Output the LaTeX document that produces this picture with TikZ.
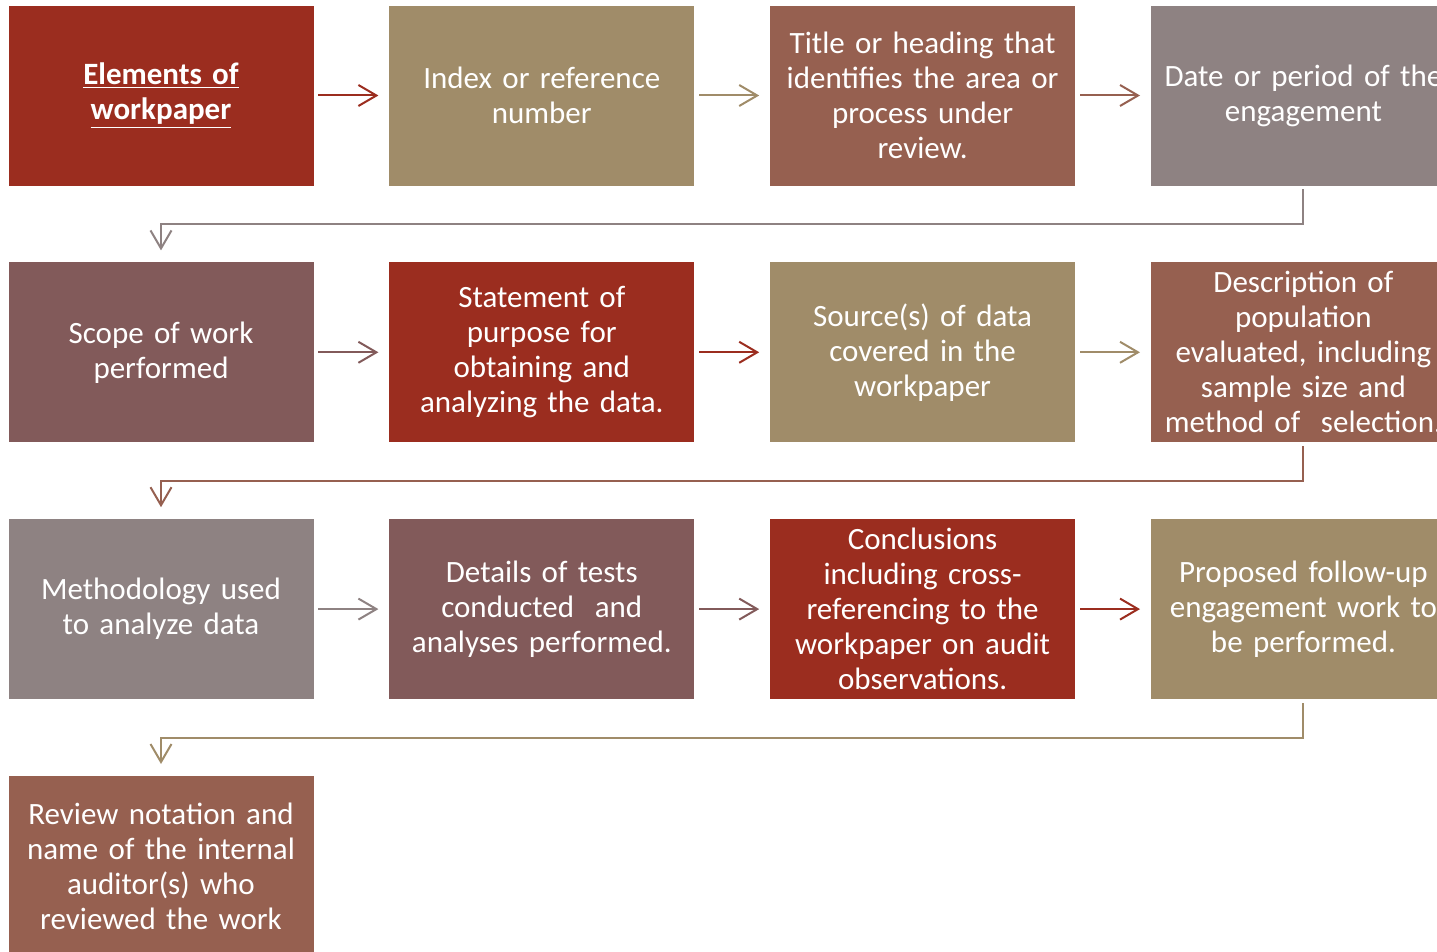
\documentclass[tikz,border=0pt]{standalone}
\usepackage{fontspec}
\setmainfont{Carlito}
\usetikzlibrary{positioning, arrows.meta}
\definecolor{wpred}{HTML}{9B2D1F}
\definecolor{wptan}{HTML}{A08C69}
\definecolor{wpbrown}{HTML}{966050}
\definecolor{wpgray}{HTML}{8E8282}
\definecolor{wpmauve}{HTML}{825A5A}

\begin{document}
\begin{tikzpicture}[
    box/.style={rectangle, draw=white, line width=0.4pt, inner sep=0pt,
      minimum width=153pt, minimum height=90.5pt, text width=150pt,
      align=center, text=white, font=\fontsize{15.5}{17.5}\selectfont},
    link/.style={line width=1pt, -{Straight Barb[length=9pt,width=10.5pt]},
      shorten <=2pt, shorten >=5pt},
    elbow/.style={link, shorten <=1.5pt, shorten >=5.5pt},
    node distance=37.5pt and 37pt
  ]
  \useasboundingbox (0,0) rectangle (718.5pt,-476pt);

  % row 1
  \node[box, fill=wpred] (elem) at (80.5pt,-47.75pt)
    {\underline{\textbf{Elements of}}\\\underline{\textbf{workpaper}}};
  \node[box, fill=wptan, right=of elem] (index) {Index or reference\\number};
  \node[box, fill=wpbrown, right=of index] (title)
    {Title or heading that\\identifies the area or\\process under\\review.};
  \node[box, fill=wpgray, right=of title] (date) {Date or period of the\\engagement};

  % row 2
  \node[box, fill=wpmauve, below=of elem] (scope) {Scope of work\\performed};
  \node[box, fill=wpred, right=of scope] (purpose)
    {Statement of\\purpose for\\obtaining and\\analyzing the data.};
  \node[box, fill=wptan, right=of purpose] (source)
    {Source(s) of data\\covered in the\\workpaper};
  \node[box, fill=wpbrown, right=of source] (popul)
    {Description of\\population\\evaluated, including\\sample size and\\method of~~selection.};

  % row 3
  \node[box, fill=wpgray, below=of scope] (method) {Methodology used\\to analyze data};
  \node[box, fill=wpmauve, right=of method] (tests)
    {Details of tests\\conducted~~and\\analyses performed.};
  \node[box, fill=wpred, right=of tests] (concl)
    {Conclusions\\including cross-\\referencing to the\\workpaper on audit\\observations.};
  \node[box, fill=wptan, right=of concl] (follow)
    {Proposed follow-up\\engagement work to\\be performed.};

  % row 4
  \node[box, fill=wpbrown, below=of method] (review)
    {Review notation and\\name of the internal\\auditor(s) who\\reviewed the work};

  % connectors
  \draw[link, wpred]   (elem) -- (index);
  \draw[link, wptan]   (index) -- (title);
  \draw[link, wpbrown] (title) -- (date);
  \draw[elbow, wpgray] (date.south) -- ++(0,-19pt) -| (scope.north);

  \draw[link, wpmauve] (scope) -- (purpose);
  \draw[link, wpred]   (purpose) -- (source);
  \draw[link, wptan]   (source) -- (popul);
  \draw[elbow, wpbrown] (popul.south) -- ++(0,-19pt) -| (method.north);

  \draw[link, wpgray]  (method) -- (tests);
  \draw[link, wpmauve] (tests) -- (concl);
  \draw[link, wpred]   (concl) -- (follow);
  \draw[elbow, wptan]  (follow.south) -- ++(0,-19pt) -| (review.north);
\end{tikzpicture}
\end{document}
